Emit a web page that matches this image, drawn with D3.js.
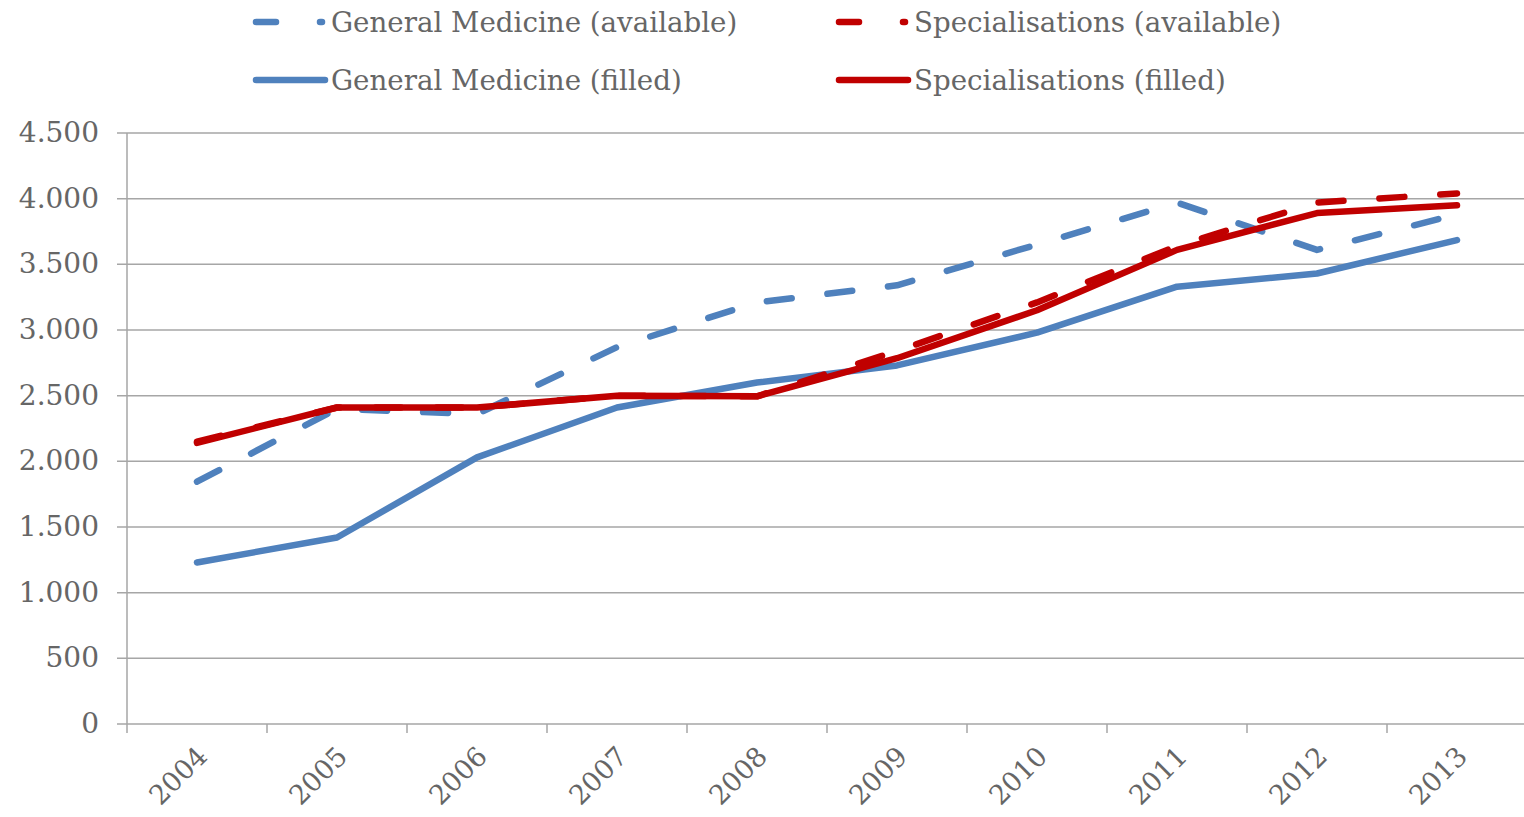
<!DOCTYPE html>
<html>
<head>
<meta charset="utf-8">
<script src="https://cdn.jsdelivr.net/npm/d3@7"></script>
<style>
  html, body { margin: 0; padding: 0; background: #fff; }
  svg { display: block; }
  text { font-family: "DejaVu Serif", "Liberation Serif", serif; fill: #666666; }
</style>
</head>
<body>
<svg id="chart" width="1524" height="817"></svg>
<script>
const years = ["2004","2005","2006","2007","2008","2009","2010","2011","2012","2013"];
const gmAvailable   = [1845, 2400, 2360, 2870, 3210, 3340, 3650, 3970, 3610, 3880];
const gmFilled      = [1230, 1420, 2030, 2410, 2600, 2730, 2980, 3330, 3430, 3685];
const specAvailable = [2150, 2410, 2410, 2500, 2495, 2840, 3210, 3640, 3970, 4040];
const specFilled    = [2140, 2410, 2410, 2500, 2495, 2785, 3150, 3610, 3890, 3950];
const yTicks = [0, 500, 1000, 1500, 2000, 2500, 3000, 3500, 4000, 4500];

const series = [
  { name: "General Medicine (available)", values: gmAvailable,   color: "#4f81bd", dashed: true },
  { name: "Specialisations (available)",  values: specAvailable, color: "#c00000", dashed: true },
  { name: "General Medicine (filled)",    values: gmFilled,      color: "#4f81bd", dashed: false },
  { name: "Specialisations (filled)",     values: specFilled,    color: "#c00000", dashed: false }
];
const drawOrder = [0, 2, 3, 1];

const svg = d3.select("#chart");
const pLeft = 127, pRight = 1527, pTop = 133, pBottom = 724;

const x = d3.scaleBand().domain(years).range([pLeft, pRight]);
const y = d3.scaleLinear().domain([0, 4500]).range([pBottom, pTop]);

const fmt = v => d3.format(",")(v).replace(/,/g, ".");

// gridlines
svg.append("g").selectAll("line").data(yTicks).join("line")
  .attr("x1", pLeft - 10).attr("x2", 1524)
  .attr("y1", d => y(d)).attr("y2", d => y(d))
  .attr("stroke", "#a6a6a6").attr("stroke-width", 1.5);

// y axis line
svg.append("line").attr("x1", pLeft).attr("x2", pLeft).attr("y1", pTop).attr("y2", pBottom + 9)
  .attr("stroke", "#a6a6a6").attr("stroke-width", 1.5);

// x ticks at band boundaries
const bounds = years.map(d => x(d));
svg.append("g").selectAll("line").data(bounds.slice(1)).join("line")
  .attr("x1", d => d).attr("x2", d => d).attr("y1", pBottom).attr("y2", pBottom + 9)
  .attr("stroke", "#a6a6a6").attr("stroke-width", 1.5);

// y labels
svg.append("g").selectAll("text").data(yTicks).join("text")
  .attr("x", 99).attr("y", d => y(d) + 9)
  .attr("text-anchor", "end").attr("font-size", 28)
  .text(d => fmt(d));

// x labels
svg.append("g").selectAll("text").data(years).join("text")
  .attr("transform", d => `translate(${x(d) + x.bandwidth() / 2 + 12},${pBottom + 34}) rotate(-45)`)
  .attr("text-anchor", "end").attr("font-size", 27)
  .text(d => d);

// lines
const line = d3.line().x((d, i) => x(years[i]) + x.bandwidth() / 2).y(d => y(d));
drawOrder.forEach(i => {
  const s = series[i];
  svg.append("path").datum(s.values)
    .attr("d", line)
    .attr("fill", "none")
    .attr("stroke", s.color)
    .attr("stroke-width", 6.5)
    .attr("stroke-linecap", "round")
    .attr("stroke-linejoin", "round")
    .attr("stroke-dasharray", s.dashed ? "25,36" : null);
});

// legend
const legendPos = [
  { lx: 256, ly: 22 }, { lx: 839, ly: 22 },
  { lx: 256, ly: 80 }, { lx: 839, ly: 80 }
];
series.forEach((s, i) => {
  const p = legendPos[i];
  const g = svg.append("g");
  if (s.dashed) {
    g.append("line").attr("x1", p.lx).attr("x2", p.lx + 20).attr("y1", p.ly).attr("y2", p.ly)
      .attr("stroke", s.color).attr("stroke-width", 6.5).attr("stroke-linecap", "round");
    g.append("line").attr("x1", p.lx + 64).attr("x2", p.lx + 66).attr("y1", p.ly).attr("y2", p.ly)
      .attr("stroke", s.color).attr("stroke-width", 6.5).attr("stroke-linecap", "round");
  } else {
    g.append("line").attr("x1", p.lx).attr("x2", p.lx + 69).attr("y1", p.ly).attr("y2", p.ly)
      .attr("stroke", s.color).attr("stroke-width", 6.5).attr("stroke-linecap", "round");
  }
  g.append("text").attr("x", p.lx + 75).attr("y", p.ly + 10)
    .attr("font-size", 27.7).text(s.name);
});
</script>
</body>
</html>
